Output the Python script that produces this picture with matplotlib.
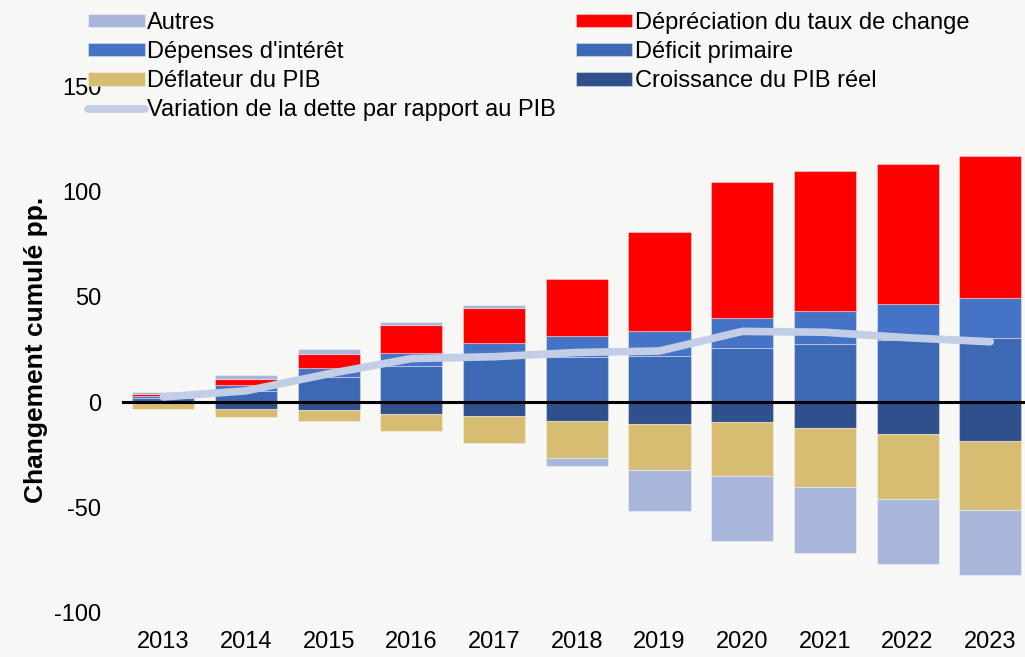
import matplotlib.pyplot as plt
import numpy as np

plt.rcParams['font.family'] = ['Liberation Sans', 'DejaVu Sans']
plt.rcParams['axes.unicode_minus'] = False

# données (points de pourcentage du PIB, cumulés)
annees = ['2013', '2014', '2015', '2016', '2017', '2018', '2019', '2020', '2021', '2022', '2023']
deficit_primaire = [2.0, 5.4, 12.0, 17.2, 21.5, 21.5, 22.0, 25.9, 27.8, 29.4, 30.6]
depenses_interet = [1.0, 3.0, 4.0, 6.3, 6.8, 9.8, 12.0, 13.9, 15.6, 17.0, 18.7]
depreciation = [0.8, 2.8, 7.1, 12.9, 16.3, 27.2, 46.7, 64.5, 66.1, 66.4, 67.6]
autres = [1.1, 1.9, 2.0, 1.6, 1.6, -3.6, -19.3, -31.1, -31.1, -31.0, -31.0]
croissance_pib = [-0.3, -3.2, -3.6, -5.4, -6.6, -8.7, -10.4, -9.6, -12.3, -15.2, -18.3]
deflateur_pib = [-2.7, -3.8, -5.2, -8.2, -12.9, -17.8, -21.8, -25.3, -28.1, -30.6, -32.7]
variation_dette = [2.5, 5.4, 13.5, 20.7, 21.6, 23.6, 24.3, 33.6, 33.2, 30.6, 28.7]

c_autres = '#A8B6DB'
c_interet = '#4573C5'
c_primaire = '#3D69B4'
c_croissance = '#2F4F8D'
c_deflateur = '#D6BD71'
c_change = '#FF0000'
c_ligne = '#C3CDE6'
fond = '#F7F7F5'

fig = plt.figure(figsize=(10.25, 6.57), dpi=100, facecolor=fond)
ax = fig.add_axes([0.119, 0.067, 0.881, 0.802], facecolor=fond)

x = np.arange(len(annees))
w = 0.75
ec = dict(edgecolor=(1, 1, 1, 0.35), linewidth=0.8)

pos_bottom = np.zeros(len(x))
neg_bottom = np.zeros(len(x))

b_prim = ax.bar(x, deficit_primaire, w, bottom=pos_bottom, color=c_primaire, **ec)
pos_bottom += np.array(deficit_primaire)
b_int = ax.bar(x, depenses_interet, w, bottom=pos_bottom, color=c_interet, **ec)
pos_bottom += np.array(depenses_interet)
b_chg = ax.bar(x, depreciation, w, bottom=pos_bottom, color=c_change, **ec)
pos_bottom += np.array(depreciation)

b_cro = ax.bar(x, croissance_pib, w, bottom=neg_bottom, color=c_croissance, **ec)
neg_bottom += np.array(croissance_pib)
b_def = ax.bar(x, deflateur_pib, w, bottom=neg_bottom, color=c_deflateur, **ec)
neg_bottom += np.array(deflateur_pib)

aut = np.array(autres)
aut_bottom = np.where(aut >= 0, pos_bottom, neg_bottom)
b_aut = ax.bar(x, aut, w, bottom=aut_bottom, color=c_autres, **ec)

ax.axhline(0, color='black', lw=2.2, zorder=3)
ligne, = ax.plot(x, variation_dette, color=c_ligne, lw=5.5, solid_capstyle='round', zorder=4)

ax.set_xlim(-0.5, 10.42)
ax.set_ylim(-100, 150)
ax.set_yticks([-100, -50, 0, 50, 100, 150])
ax.set_xticks(x)
ax.set_xticklabels(annees)
ax.tick_params(length=0, labelsize=17)
ax.tick_params(axis='x', pad=13)
ax.tick_params(axis='y', pad=15)
for s in ax.spines.values():
    s.set_visible(False)
ax.set_ylabel('Changement cumulé pp.', fontsize=19, fontweight='bold', labelpad=4)

handles = [b_aut, b_int, b_def, ligne, b_chg, b_prim, b_cro]
labels = ['Autres', "Dépenses d'intérêt", 'Déflateur du PIB',
          'Variation de la dette par rapport au PIB',
          'Dépréciation du taux de change', 'Déficit primaire', 'Croissance du PIB réel']
leg = fig.legend(handles, labels, ncol=2, loc='upper left', bbox_to_anchor=(0.065, 1.014),
                 frameon=False, fontsize=17, handlelength=2.4, handleheight=0.5,
                 handletextpad=0.1, labelspacing=0.3, columnspacing=0.85)
leg.set_zorder(5)

fig.savefig('out.png', dpi=100, facecolor=fond)
